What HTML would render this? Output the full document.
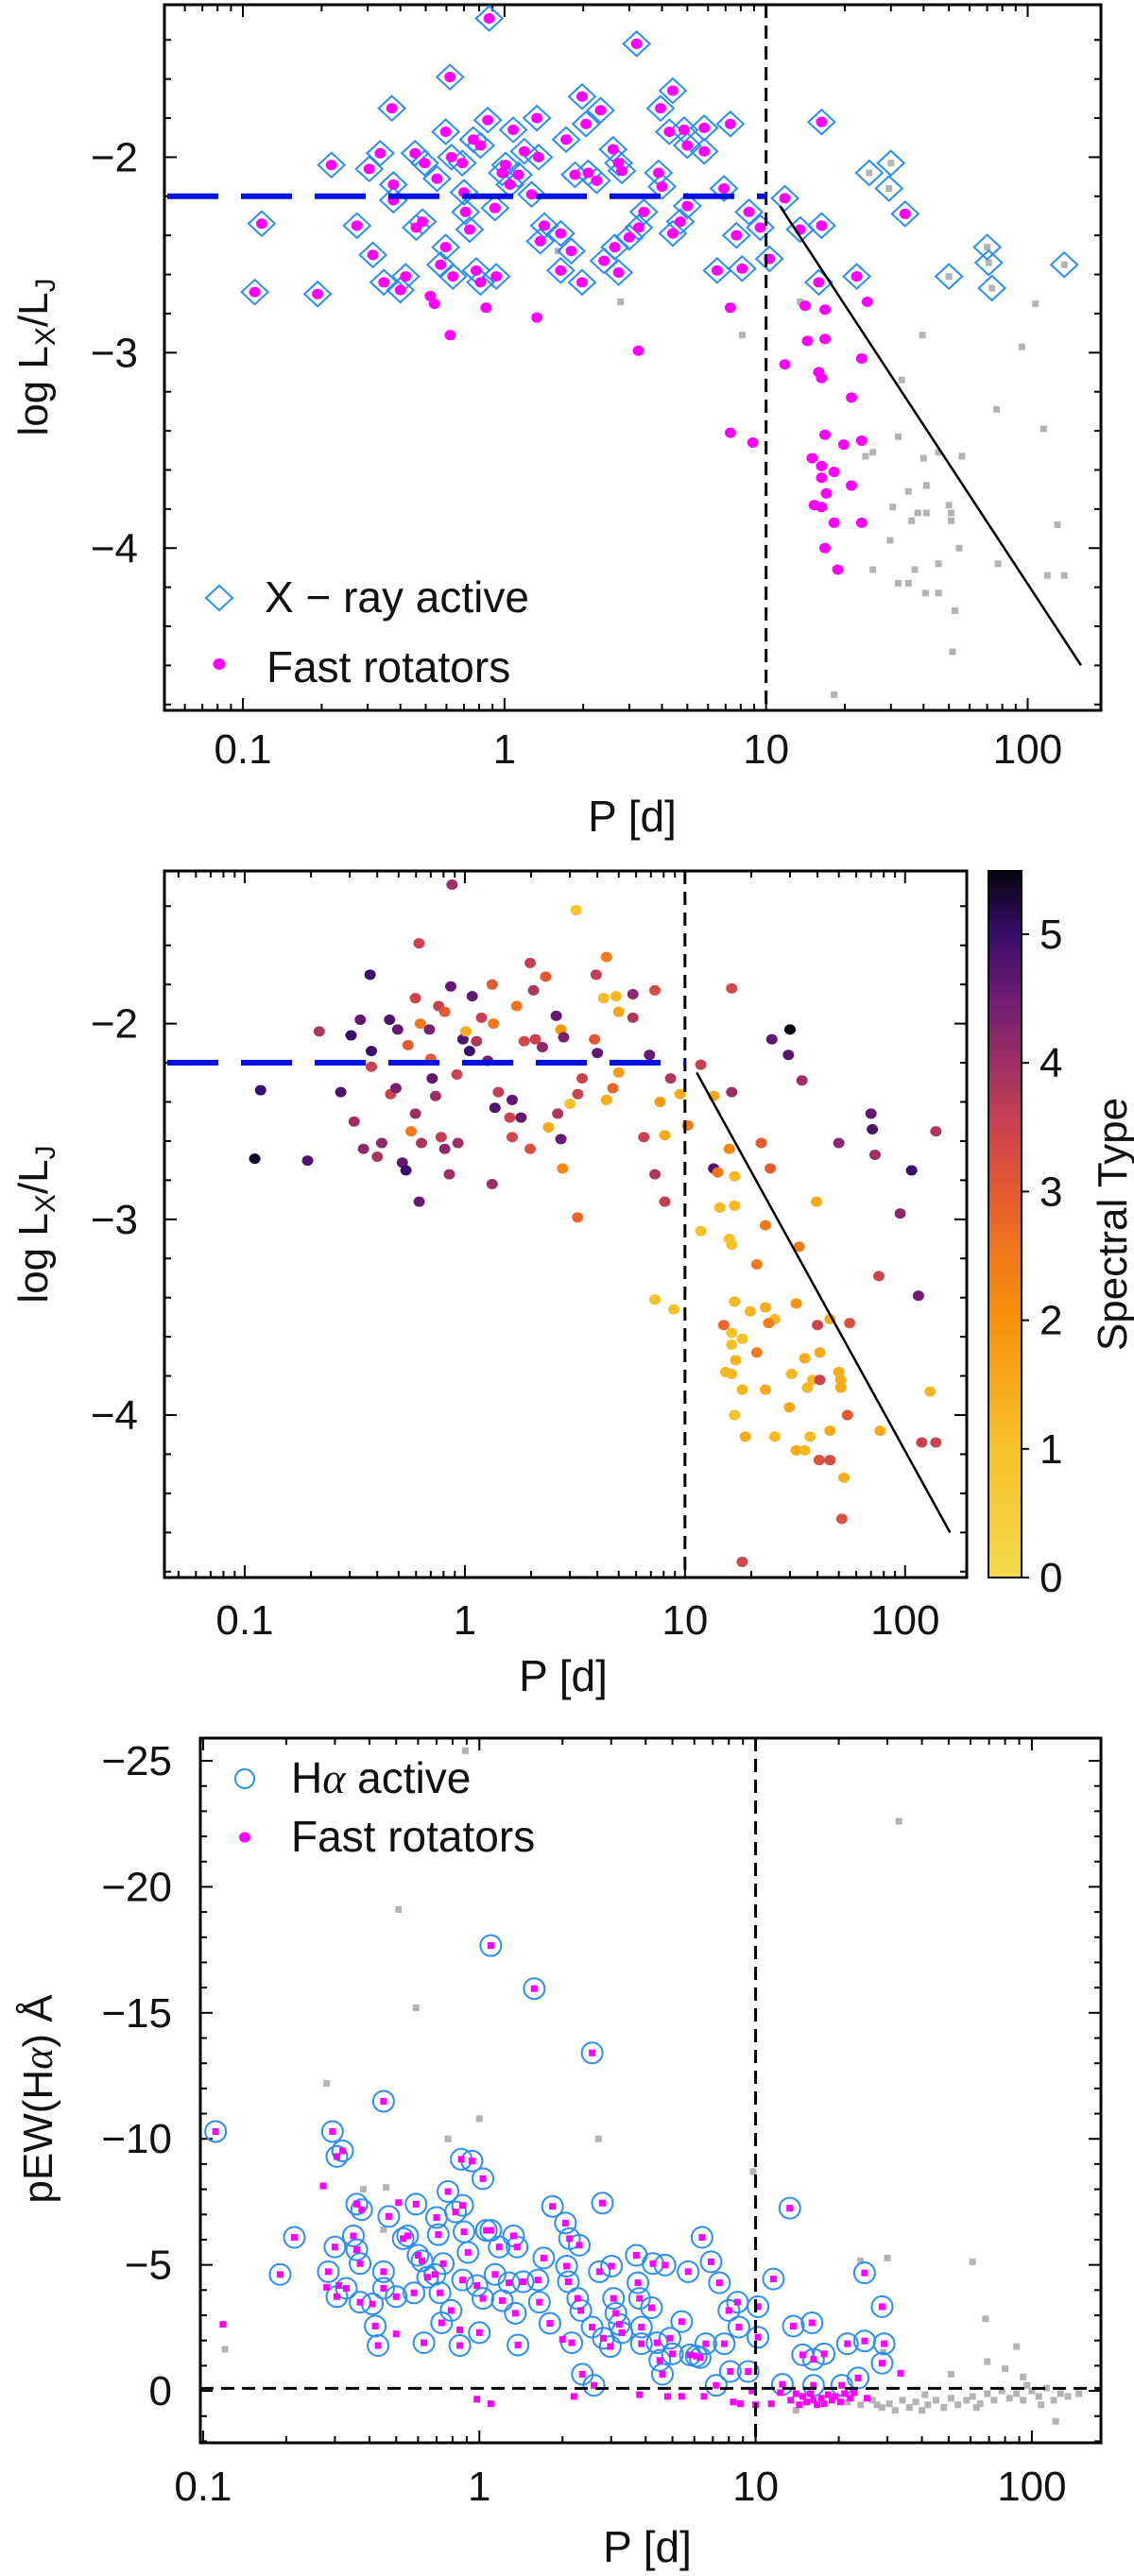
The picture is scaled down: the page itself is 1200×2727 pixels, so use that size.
<!DOCTYPE html>
<html><head><meta charset="utf-8">
<style>
html,body{margin:0;padding:0;background:#fff;}
svg{display:block;font-family:"Liberation Sans","DejaVu Sans",sans-serif;}
</style></head>
<body>
<svg id="fig" xmlns="http://www.w3.org/2000/svg" width="1200" height="2727" viewBox="0 0 1200 2727">
<defs>
<linearGradient id="cbgrad" x1="0" y1="1" x2="0" y2="0">
<stop offset="0" stop-color="#f3d84a"/><stop offset="0.182" stop-color="#f6c22a"/><stop offset="0.364" stop-color="#f79209"/>
<stop offset="0.455" stop-color="#f07a1a"/><stop offset="0.545" stop-color="#e35a30"/><stop offset="0.636" stop-color="#cc4350"/>
<stop offset="0.727" stop-color="#9e2f64"/><stop offset="0.818" stop-color="#6f1c72"/><stop offset="0.909" stop-color="#3a0d6b"/>
<stop offset="1" stop-color="#05050f"/></linearGradient>
<clipPath id="c1"><rect x="174" y="5" width="991" height="747"/></clipPath>
<clipPath id="c2"><rect x="174" y="922" width="849" height="748"/></clipPath>
<clipPath id="c3"><rect x="212" y="1840" width="953" height="746"/></clipPath>
</defs>
</svg>
<script>
// ---------- Panel 1 / 2 data: X-ray active stars ----------
const xrayP = [0.111,0.118,0.193,0.218,0.273,0.304,0.314,0.335,0.346,0.371,
0.376,0.376,0.419,0.40,0.455,0.46,0.495,0.486,0.552,0.57,
0.596,0.596,0.619,0.627,0.635,0.69,0.70,0.71,0.736,0.76,
0.78,0.81,0.81,0.863,0.874,0.92,0.93,0.98,1.01,1.05,
1.08,1.13,1.19,1.27,1.33,1.35,1.37,1.42,1.64,1.64,
1.72,1.80,1.86,1.98,2.05,1.98,2.09,2.25,2.33,2.40,
2.60,2.64,2.73,2.73,2.81,3.0,3.2,3.26,3.41,3.88,
3.95,4.0,4.27,4.4,4.4,4.7,4.86,5.0,5.0,5.8,
5.8,6.5,6.9,7.3,7.7,8.1,8.6,9.5,10.3,11.8,
13.5,15.9,16.3,16.3,22.2,24.8,30.0,29.5,34.0,50.0,
70,71,73,138];
const xrayLogLx = [-2.69,-2.34,-2.70,-2.04,-2.35,-2.06,-2.50,-1.98,-2.64,-1.75,
-2.14,-2.22,-2.61,-2.68,-1.98,-2.36,-2.03,-2.33,-2.11,-2.55,
-1.87,-2.46,-1.59,-2.00,-2.61,-2.03,-2.18,-2.28,-2.37,-1.91,
-2.58,-2.64,-1.94,-1.81,-1.29,-2.26,-2.61,-2.08,-2.04,-2.14,
-1.86,-2.09,-1.97,-2.19,-1.80,-2.00,-2.43,-2.35,-2.39,-2.58,
-1.91,-2.48,-2.09,-1.69,-1.83,-2.64,-2.08,-2.12,-1.76,-2.53,
-1.96,-2.46,-2.03,-2.59,-2.07,-2.41,-1.42,-2.36,-2.28,-2.08,
-1.75,-2.15,-1.87,-1.66,-2.39,-2.33,-1.86,-1.94,-2.25,-1.85,
-1.97,-2.58,-2.16,-1.83,-2.40,-2.57,-2.28,-2.36,-2.52,-2.21,
-2.37,-2.64,-1.82,-2.35,-2.61,-2.08,-2.03,-2.16,-2.29,-2.61,
-2.46,-2.54,-2.67,-2.55];
const xrayFast = [1,1,1,1,1,1,1,1,1,1, 1,1,1,1,1,1,1,1,1,1, 1,1,1,1,1,1,1,1,1,1, 1,1,1,1,1,1,1,1,1,1,
1,1,1,1,1,1,1,1,1,1, 1,1,1,1,1,1,1,1,1,1, 1,1,1,1,1,1,1,1,1,1, 1,1,1,1,1,1,1,1,1,1,
1,1,1,1,1,1,1,1,1,1, 1,1,1,1,1,0,0,0,1,0, 0,0,0,0];
const xraySpT = [5.4,5,4.8,3.8,4.8,5,4,4.6,4.2,5, 5,3.5,4.2,3.9,4.8,3.5,4.6,4.4,3,2.5,
3.5,4,3.5,2.5,3.8,4.4,3,4.6,4,3.6, 3.6,4.2,3,4.6,4,3.5,4,4.8,1.5,5,
4.6,3.8,3.6,4.5,3,2.5,4.8,3.6,4.6,3.4, 2.6,4.6,3.4,3.6,3.8,3.2,3.5,4.2,3,1.5,
4.6,3.8,2,4.6,4.4,1,0.8,3.5,3.5,3, 3.6,4.6,1.2,2.4,1.5,2.8,1.2,1.6,1.8,4.2,
3.8,3.5,4.6,3.3,1.8,1.5,3.8,1.5,2.5,3.6, 1.6,2.2,3.4,4,3,4.6,5.5,4.7,4,4.2, 4.6,4.8,4,3.8];
// fast rotators not X-ray active (or below threshold)
const fastP = [0.52,0.54,0.62,0.85,1.33,3.25,7.3,7.3,8.9,11.8,14.1,14.4,16.8,16.8,15.9,16.3,23.2,24.4,21.2,16.8,19.8,23.2,15.0,16.3,16.3,18.2,17.0,15.3,16.3,21.2,18.2,23.2,16.8,18.8];
const fastLogLx = [-2.71,-2.75,-2.91,-2.77,-2.82,-2.99,-2.77,-3.41,-3.46,-3.06,-2.76,-2.94,-2.78,-2.93,-3.10,-3.13,-3.03,-2.74,-3.23,-3.42,-3.47,-3.45,-3.54,-3.58,-3.64,-3.61,-3.72,-3.78,-3.79,-3.68,-3.87,-3.87,-4.00,-4.11];
const fastSpT = [4.6,5,4.6,4,4,2.8,3.8,1,1,1,2.5,1.2,1.2,1.2,1,1,2.5,3,2.5,1.2,1.3,1.5,2.8,1,1,1,1.3,1.2,1.2,2.5,1.3,1.5,1,1.5];
// slow / inactive stars
const slowP = [1.6,2.78,13.5,8.1,39.6,33,95,107,76,115,32,25.6,24,40,56,45.6,35,41,30.5,38,41,50,51,36,51,130,29.8,54.7,45.6,77,25.6,37,32,35,40.7,45.6,119,138,52.7,51.6,18.2];
const slowLogLx = [-2.48,-2.74,-2.74,-2.91,-2.91,-3.14,-2.97,-2.75,-3.29,-3.39,-3.43,-3.51,-3.53,-3.54,-3.53,-3.51,-3.71,-3.68,-3.79,-3.82,-3.82,-3.78,-3.82,-3.86,-3.86,-3.88,-3.96,-4.00,-4.08,-4.08,-4.11,-4.11,-4.18,-4.18,-4.23,-4.23,-4.14,-4.14,-4.32,-4.53,-4.75];
const slowSpT = [3.5,2.2,4.8,3.6,1.5,2.5,4.2,5,3.5,4.5,2,1.2,2.5,3.5,3.2,1.5,1.5,1.5,1.2,1.2,3.5,1.5,1.4,1.2,1.5,1.3,1.6,3.0,1.5,1.5,1.2,1.2,1.5,1.2,3.2,3.3,3.5,3.5,1.4,3.2,3.4];
// model: saturated level and unsaturated slope
const satLevel = -2.2, satBreakP = 10;
const slopeLine = [[11.3,-2.25],[160,-4.6]];

// ---------- Panel 3 data: H-alpha ----------
const haP = [0.111,0.19,0.214,0.284,0.294,0.30,0.305,0.305,0.32,0.33,0.35,0.36,0.36,0.37,0.375,0.37,0.41,0.42,0.43,0.45,
0.45,0.45,0.47,0.50,0.53,0.55,0.58,0.59,0.60,0.62,0.63,0.65,0.69,0.70,0.71,0.72,0.73,0.74,0.77,0.79,
0.82,0.85,0.86,0.87,0.87,0.88,0.91,0.94,0.98,1.0,1.03,1.03,1.06,1.10,1.10,1.14,1.18,1.21,1.28,1.33,
1.35,1.37,1.38,1.44,1.58,1.63,1.65,1.71,1.80,1.84,2.05,2.07,2.10,2.12,2.16,2.27,2.30,2.33,2.36,2.56,
2.56,2.60,2.72,2.79,2.81,2.98,3.01,3.06,3.12,3.21,3.28,3.7,3.75,3.80,3.86,3.86,4.2,4.25,4.4,4.5,
4.6,4.7,4.9,5.0,5.4,5.7,5.8,6.1,6.3,6.4,6.6,6.9,7.2,7.4,7.7,8.0,8.1,8.6,8.7,9.4,
10.2,10.2,11.6,12.5,13.3,13.7,14.8,16.0,16.2,17.7,16.2,20.5,21.5,23.5,24.8,24.8,28.7,29.2,28.7];
const haEW = [-10.29,-4.62,-6.09,-4.73,-10.29,-5.71,-9.30,-3.74,-9.52,-4.07,-6.15,-5.60,-7.41,-5.05,-7.19,-3.52,-3.45,-2.57,-1.80,-11.49,
-4.73,-4.07,-6.92,-3.74,-6.04,-6.15,-3.89,-7.41,-5.38,-5.16,-1.91,-4.51,-4.62,-6.88,-6.20,-3.89,-2.70,-5.05,-7.91,-3.19,
-7.10,-1.80,-9.19,-7.36,-4.40,-6.31,-5.49,-9.12,-4.18,-2.31,-8.42,-3.67,-6.37,-17.67,-6.37,-4.62,-5.71,-3.58,-4.29,-6.15,
-3.08,-5.71,-1.82,-4.33,-15.96,-4.40,-3.52,-5.27,-2.68,-7.32,-6.66,-4.95,-4.33,-6.04,-1.91,-3.67,-5.78,-3.19,-0.66,-13.41,
-2.53,-0.22,-4.73,-7.45,-2.09,-1.76,-4.95,-3.67,-3.08,-2.64,-2.31,-5.38,-4.29,-3.67,-2.53,-1.87,-3.30,-5.05,-1.91,-1.21,
-0.66,-4.99,-2.09,-1.47,-2.75,-4.73,-1.43,-1.38,-1.32,-6.09,-1.87,-5.12,-0.22,-4.29,-1.87,-3.19,-0.77,-3.52,-2.53,-0.77,
-3.34,-2.13,-4.44,-0.26,-7.25,-2.57,-1.43,-2.70,-1.25,-1.47,-0.22,-0.22,-1.87,-0.51,-4.68,-1.98,-3.34,-1.87,-1.10];
const haFastP = [0.118,0.272,0.28,0.31,0.50,0.51,0.85,0.98,1.10,2.0,2.2,3.8,4.8,5.4,6.5,8.3,8.8,9.7,10,11.4,12.3,
13.4,14,14.4,14.8,15.3,15.8,16.2,16.7,17.3,17.7,18.3,18.9,19.4,20.3,21,22,22.7,25.3,33.5];
const haFastEW = [-2.64,-8.13,-4.11,-4.18,-2.26,-7.47,-2.42,0.33,0.51,-2.04,0.22,0.15,0.22,0.22,0.22,0.44,0.51,0,0.55,0.51,0.07,
0.37,0.11,0.55,0.22,0.44,0.11,0.37,0.55,0.29,0.51,0.15,0.37,0.22,0.44,0.11,0.29,0.07,0.29,-0.70];
const haSlowP = [0.89,0.51,0.59,0.28,1.0,0.77,2.7,9.8,0.38,0.46,0.45,33,30,24,61,68,69,88,51,80,93,29,0.12,
21.5,24,26.5,28.7,30.5,32,34,36,38,40,42,45,48,51,54,58,61,65,69,73,78,83,88,93,100,106,113,120,127,135,148,122,14,27.5,41,63,96,108];
const haSlowEW = [-25.4,-19.1,-15.2,-12.2,-10.8,-10.0,-10.0,-8.7,-8.0,-8.07,-6.4,-22.6,-5.27,-5.16,-5.12,-2.86,-1.16,-1.76,-0.66,-0.88,-0.55,-1.54,-1.65,
0.44,0.55,0.37,0.66,0.51,0.77,0.37,0.66,0.44,0.77,0.55,0.37,0.66,0.29,0.55,0.37,0.22,0.51,0.11,0.37,0,0.29,0.11,0.37,0,0.22,-0.11,0.37,0.11,0.22,0.11,1.21,0.77,0.55,0.15,0.66,-0.22,0.55];
const haThreshold = -0.1;

// ---------- drawing ----------
const NS = 'http://www.w3.org/2000/svg';
const svg = document.getElementById('fig');
function el(tag, attrs, parent){ const e=document.createElementNS(NS,tag); for(const k in attrs) e.setAttribute(k,attrs[k]); (parent||svg).appendChild(e); return e; }
function makeScale(cfg){
  cfg.sx = p => cfg.left + (Math.log10(p)-cfg.xmin)/(cfg.xmax-cfg.xmin)*(cfg.right-cfg.left);
  cfg.sy = v => cfg.top + (v-cfg.ytop)/(cfg.ybot-cfg.ytop)*(cfg.bottom-cfg.top);
  return cfg;
}
const P1 = makeScale({left:174,right:1165,top:5,bottom:752,xmin:-1.30,xmax:2.28,ytop:-1.22,ybot:-4.83});
const P2 = makeScale({left:174,right:1023,top:922,bottom:1670,xmin:-1.365,xmax:2.28,ytop:-1.22,ybot:-4.83});
const P3 = makeScale({left:212,right:1165,top:1840,bottom:2586,xmin:-1.01,xmax:2.25,ytop:-25.9,ybot:2.06});
const fmt = v => (v<0?'\u2212':'')+Math.abs(v);

function axes(cfg, name, yMajor, yMinorStep, labelRight, xTitleX, xTitleY, xLabY){
  const g = el('g',{});
  
  
  el('rect',{x:cfg.left,y:cfg.top,width:cfg.right-cfg.left,height:cfg.bottom-cfg.top,fill:'none',stroke:'#000','stroke-width':3},g);
  // x ticks
  for(let d=-2; d<=2; d++){
    for(let m=1;m<=9;m++){
      const p=m*Math.pow(10,d), lp=Math.log10(p);
      if(lp<cfg.xmin||lp>cfg.xmax) continue;
      const x=cfg.sx(p), L=(m===1)?13:7;
      el('line',{x1:x,x2:x,y1:cfg.bottom,y2:cfg.bottom-L,stroke:'#000','stroke-width':2},g);
      el('line',{x1:x,x2:x,y1:cfg.top,y2:cfg.top+L,stroke:'#000','stroke-width':2},g);
      if(m===1){
        const t=el('text',{x:x,y:xLabY,'font-size':44,'text-anchor':'middle',fill:'#111'},g);
        t.textContent = p<1 ? p.toFixed(1) : String(p);
        
        
      }
    }
  }
  // y ticks
  const lo=Math.min(cfg.ytop,cfg.ybot), hi=Math.max(cfg.ytop,cfg.ybot);
  for(let v=Math.ceil(lo/yMinorStep)*yMinorStep; v<=hi+1e-9; v+=yMinorStep){
    const vv=Math.round(v*1000)/1000;
    const isMaj = yMajor.some(m=>Math.abs(m-vv)<1e-6);
    const y=cfg.sy(vv), L=isMaj?13:7;
    el('line',{x1:cfg.left,x2:cfg.left+L,y1:y,y2:y,stroke:'#000','stroke-width':2},g);
    el('line',{x1:cfg.right,x2:cfg.right-L,y1:y,y2:y,stroke:'#000','stroke-width':2},g);
  }
  yMajor.forEach(v=>{
    const t=el('text',{x:labelRight,y:cfg.sy(v)+15,'font-size':44,'text-anchor':'end',fill:'#111'},g);
    t.textContent=fmt(v);
    
    
  });
  const xt=el('text',{x:xTitleX,y:xTitleY,'font-size':46,'text-anchor':'middle',fill:'#111'},g);
  xt.textContent='P [d]';
  
  
}
function yTitleLx(cx, cy){
  const t=el('text',{transform:`translate(${cx},${cy}) rotate(-90)`,'font-size':44,'text-anchor':'middle',fill:'#111'});
  
  
  t.innerHTML='log L<tspan font-size="30" dy="8">X</tspan><tspan dy="-8">/L</tspan><tspan font-size="30" dy="8">J</tspan>';
}
function graySq(g,x,y,s){ el('rect',{x:x-s/2,y:y-s/2,width:s,height:s,fill:'#b4b4b4'},g); }
function diamond(g,x,y){ el('polygon',{points:`${x-14},${y} ${x},${y-13} ${x+14},${y} ${x},${y+13}`,fill:'none',stroke:'#2b8ef0','stroke-width':2},g); }
function dot(g,x,y,c,r){ el('ellipse',{cx:x,cy:y,rx:r+0.5,ry:r,fill:c},g); }
function spColor(s){
  const stops=[[0,[243,216,74]],[1,[246,194,42]],[2,[247,146,9]],[2.5,[240,122,26]],[3,[227,90,48]],[3.5,[204,67,80]],[4,[158,47,100]],[4.5,[111,28,114]],[5,[58,13,107]],[5.5,[5,5,15]]];
  s=Math.max(0,Math.min(5.5,s));
  for(let i=1;i<stops.length;i++){ if(s<=stops[i][0]){ const a=stops[i-1],b=stops[i],f=(s-a[0])/(b[0]-a[0]); return 'rgb('+a[1].map((c,k)=>Math.round(c+(b[1][k]-c)*f)).join(',')+')'; } }
  return 'rgb(5,5,15)';
}
function modelLines(cfg, clip, name){
  const g=el('g',{'clip-path':`url(#${clip})`});
  
  
  el('line',{x1:cfg.sx(satBreakP),x2:cfg.sx(satBreakP),y1:cfg.top,y2:cfg.bottom,stroke:'#000','stroke-width':3,'stroke-dasharray':'14,8'},g);
  el('line',{x1:cfg.left+3,x2:cfg.sx(satBreakP),y1:cfg.sy(satLevel),y2:cfg.sy(satLevel),stroke:'#0010e0','stroke-width':6,'stroke-dasharray':'54,24'},g);
  el('line',{x1:cfg.sx(slopeLine[0][0]),y1:cfg.sy(slopeLine[0][1]),x2:cfg.sx(slopeLine[1][0]),y2:cfg.sy(slopeLine[1][1]),stroke:'#000','stroke-width':2.5},g);
}

// ===== Panel 1 =====
axes(P1,'panel1',[-2,-3,-4],0.2,146,669,880,808);
yTitleLx(50, 378);
{
  const g=el('g',{'clip-path':'url(#c1)'});
  
  
  slowP.forEach((p,i)=>graySq(g,P1.sx(p),P1.sy(slowLogLx[i]),7));
  xrayP.forEach((p,i)=>{ if(!xrayFast[i]) graySq(g,P1.sx(p),P1.sy(xrayLogLx[i]),7); });
  xrayP.forEach((p,i)=>diamond(g,P1.sx(p),P1.sy(xrayLogLx[i])));
  xrayP.forEach((p,i)=>{ if(xrayFast[i]) dot(g,P1.sx(p),P1.sy(xrayLogLx[i]),'#ff00ff',5.5); });
  fastP.forEach((p,i)=>dot(g,P1.sx(p),P1.sy(fastLogLx[i]),'#ff00ff',5.5));
}
modelLines(P1,'c1','panel1');
{
  const g=el('g',{});
  
  
  diamond(g,232,633);
  const t1=el('text',{x:280,y:648,'font-size':46,fill:'#111'},g); t1.textContent='X \u2212 ray active';
  dot(g,232,703,'#ff00ff',6);
  const t2=el('text',{x:282,y:722,'font-size':46,fill:'#111'},g); t2.textContent='Fast rotators';
}

// ===== Panel 2 =====
axes(P2,'panel2',[-2,-3,-4],0.2,146,596,1790,1730);
yTitleLx(50, 1296);
{
  const g=el('g',{'clip-path':'url(#c2)'});
  
  
  slowP.forEach((p,i)=>dot(g,P2.sx(p),P2.sy(slowLogLx[i]),spColor(slowSpT[i]),5.5));
  fastP.forEach((p,i)=>dot(g,P2.sx(p),P2.sy(fastLogLx[i]),spColor(fastSpT[i]),5.5));
  xrayP.forEach((p,i)=>dot(g,P2.sx(p),P2.sy(xrayLogLx[i]),spColor(xraySpT[i]),5.5));
}
modelLines(P2,'c2','panel2');
{
  const g=el('g',{});
  
  
  el('rect',{x:1046,y:922,width:35,height:748,fill:'url(#cbgrad)',stroke:'#000','stroke-width':2},g);
  const cbTicks=[0,1,2,3,4,5];
  cbTicks.forEach(v=>{
    const y=1670-v*136.2;
    el('line',{x1:1081,x2:1089,y1:y,y2:y,stroke:'#000','stroke-width':2},g);
    const t=el('text',{x:1100,y:y+15,'font-size':44,fill:'#111'},g); t.textContent=String(v);
    
    
  });
  const ct=el('text',{transform:'translate(1192,1296) rotate(-90)','font-size':44,'text-anchor':'middle',fill:'#111'},g);
  ct.textContent='Spectral Type';
  
  
}

// ===== Panel 3 =====
axes(P3,'panel3',[-25,-20,-15,-10,-5,0],1,182,685,2712,2647);
{
  const t=el('text',{transform:'translate(55,2222) rotate(-90)','font-size':44,'text-anchor':'middle',fill:'#111'});
  
  
  t.innerHTML='pEW(H<tspan font-style="italic" font-family="Liberation Serif, serif">α</tspan>) Å';
}
{
  const g=el('g',{'clip-path':'url(#c3)'});
  
  
  haSlowP.forEach((p,i)=>graySq(g,P3.sx(p),P3.sy(haSlowEW[i]),7));
  haP.forEach((p,i)=>el('circle',{cx:P3.sx(p),cy:P3.sy(haEW[i]),r:11,fill:'none',stroke:'#2b8ef0','stroke-width':2},g));
  haP.forEach((p,i)=>{ const x=P3.sx(p),y=P3.sy(haEW[i]); el('rect',{x:x-3.5,y:y-3.5,width:7,height:7,fill:'#ff00ff'},g); });
  haFastP.forEach((p,i)=>{ const x=P3.sx(p),y=P3.sy(haFastEW[i]); el('rect',{x:x-3.5,y:y-3.5,width:7,height:7,fill:'#ff00ff'},g); });
  el('line',{x1:P3.sx(10),x2:P3.sx(10),y1:P3.top,y2:P3.bottom,stroke:'#000','stroke-width':3,'stroke-dasharray':'14,8'},g);
  el('line',{x1:P3.left,x2:P3.right,y1:P3.sy(haThreshold),y2:P3.sy(haThreshold),stroke:'#000','stroke-width':3,'stroke-dasharray':'14,8'},g);
}
{
  const g=el('g',{});
  
  
  el('circle',{cx:259,cy:1883,r:10,fill:'none',stroke:'#2b8ef0','stroke-width':2},g);
  const t1=el('text',{x:308,y:1898,'font-size':46,fill:'#111'},g);
  t1.innerHTML='H<tspan font-style="italic" font-family="Liberation Serif, serif">α</tspan> active';
  dot(g,259,1945,'#ff00ff',5.5);
  const t2=el('text',{x:308,y:1960,'font-size':46,fill:'#111'},g); t2.textContent='Fast rotators';
}
</script>
</body></html>
